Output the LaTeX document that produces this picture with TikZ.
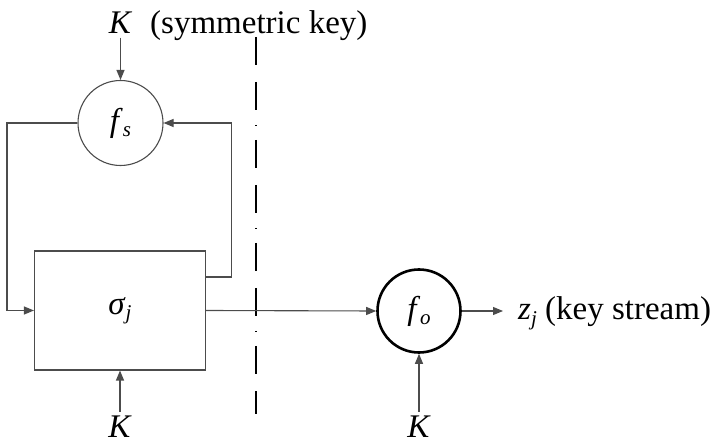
\documentclass[tikz,border=0pt]{standalone}
\usepackage{fontspec}
\setmainfont{Liberation Serif}
\usetikzlibrary{arrows.meta}

% italic symbol with a lowered italic index
\newcommand{\symidx}[2]{\textit{#1}\raisebox{-0.35ex}{\fontsize{21}{21}\selectfont\textit{#2}}}

\begin{document}
\begin{tikzpicture}[x=1pt,y=-1pt,
  font=\fontsize{33}{33}\selectfont,
  wire/.style={draw=black!70, line width=1.1pt},
  feed/.style={wire, -{Triangle[length=10pt,width=8pt]}},
  lbl/.style={inner sep=0pt},
  keylbl/.style={inner sep=3.5pt},
  stagebox/.style={draw=black!70, line width=1.1pt, minimum width=171pt, minimum height=119pt},
  roundop/.style={circle, draw, inner sep=0pt},
  divider/.style={draw=black, line width=1.8pt,
    dash pattern=on 28pt off 17pt on 28pt off 15pt on 1.5pt off 13.5pt}]
\useasboundingbox (0,0) rectangle (720,443);

% state update function and the key feeding it
\node[keylbl, anchor=base] (ktop) at (120.5,34) {\textit{K}};
\node[lbl, anchor=base west] (symkey) at (150,34) {(symmetric key)};
\node[roundop, draw=black!70, line width=1.1pt, minimum size=85pt] (fs) at (120.5,123) {\symidx{f}{s}};

% internal state
\node[stagebox] (state) at (120,310.5) {\symidx{σ}{j}};
\node[keylbl, anchor=base] (kstate) at (120,437) {\textit{K}};

% output function
\node[roundop, line width=2.6pt, minimum size=83pt] (fo) at (419,311) {\symidx{f}{o}};
\node[keylbl, anchor=base] (kout) at (419,437) {\textit{K}};
\node[lbl, anchor=base west] (zj) at (518,320) {\symidx{z}{j} (key stream)};
\coordinate (zin) at (503,311);

% dash-dotted separator
\coordinate (dtop) at (256,37);
\coordinate (dbot) at (256,414);
\draw[divider] (dtop) -- (dbot);

% connectors
\draw[feed] (ktop.south) -- (fs.north);
\draw[feed] (fs.west) -| ([xshift=-27pt]state.west) -- (state.west);
\draw[feed] ([yshift=33.5pt]state.east) -| ([xshift=68pt]fs.east) -- (fs.east);
\draw[feed] (kstate.north) -- (state.south);
\draw[feed] (state.east) -- (fo.west);
\draw[feed] (kout.north) -- (fo.south);
\draw[feed] (fo.east) -- (zin);
\end{tikzpicture}
\end{document}
